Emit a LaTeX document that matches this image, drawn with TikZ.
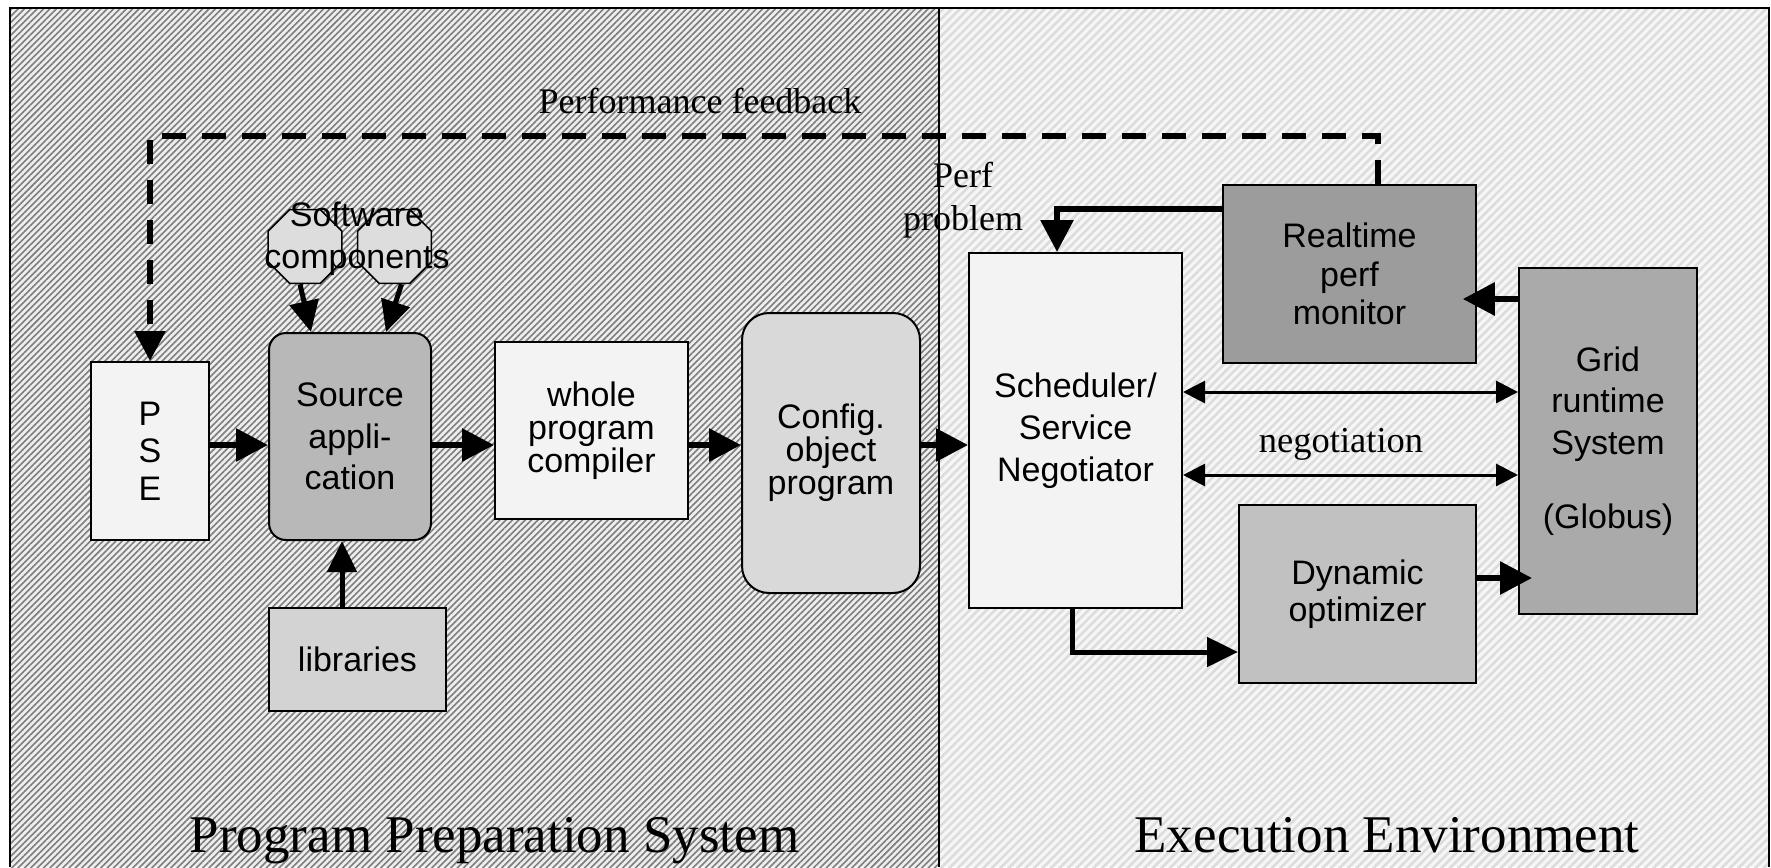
\documentclass[tikz,border=0pt]{standalone}
\usepackage{fontspec}
\setmainfont{Liberation Serif}
\newfontfamily\arialfont{Liberation Sans}
\usetikzlibrary{arrows.meta,patterns.meta,shapes.geometric}

\definecolor{leftbase}{HTML}{EEEEEE}
\definecolor{leftline}{HTML}{7E7E7E}
\definecolor{rightbase}{HTML}{F6F6F6}
\definecolor{rightline}{HTML}{DCDCDC}
\definecolor{palebox}{HTML}{F3F3F3}
\definecolor{srcfill}{HTML}{B8B8B8}
\definecolor{libfill}{HTML}{D3D3D3}
\definecolor{cfgfill}{HTML}{D9D9D9}
\definecolor{octfill}{HTML}{DDDDDD}
\definecolor{rtfill}{HTML}{9C9C9C}
\definecolor{gridfill}{HTML}{AAAAAA}
\definecolor{dynfill}{HTML}{C1C1C1}

\tikzset{
  blk/.style={draw=black, line width=2pt, inner sep=0pt, align=center, text=black},
  sansfont/.style={font=\arialfont\fontsize{34}{#1}\selectfont},
  flow/.style={line width=6pt, -{Triangle[length=32pt,width=32pt]}},
  flowthin/.style={line width=5pt, -{Triangle[length=31pt,width=29pt]}},
  link/.style={line width=3pt, {Triangle[length=22pt,width=22pt]}-{Triangle[length=22pt,width=22pt]}},
  feedback/.style={line width=6pt, dash pattern=on 24pt off 16pt, -{Triangle[length=30pt,width=30pt]}},
  octa/.style={regular polygon, regular polygon sides=8, minimum size=80pt, inner sep=0pt, draw=black, line width=1.5pt, fill=octfill},
}

\begin{document}
\begin{tikzpicture}[x=1pt,y=-1pt]
\useasboundingbox (0,0) rectangle (1771,867);

% background panels
\path[preaction={fill=leftbase}, pattern={Lines[angle=45,distance=4.5pt,line width=1.6pt]}, pattern color=leftline]
  (10,8) rectangle (938.5,867);
\path[preaction={fill=rightbase}, pattern={Lines[angle=45,distance=6pt,line width=2.5pt]}, pattern color=rightline]
  (938.5,8) rectangle (1769,867);
\draw[line width=2.5pt] (10,867) -- (10,8) -- (1769,8) -- (1769,867);
\draw[line width=2pt] (938.5,8) -- (938.5,867);

% program preparation blocks
\node[blk, sansfont=37.5, fill=palebox, minimum width=118pt, minimum height=178pt] (pse) at (150,451) {P\\S\\E};
\node[blk, sansfont=41.5, fill=srcfill, rounded corners=17pt, minimum width=162pt, minimum height=207pt] (src) at (350,436.5) {Source\\appli-\\cation};
\node[blk, sansfont=41.5, fill=libfill, minimum width=177pt, minimum height=103pt] (lib) at (357.5,659.5) {libraries};
\node[blk, sansfont=33, fill=palebox, minimum width=193pt, minimum height=177pt] (whole) at (591.5,430.5) {whole\\program\\compiler};
\node[blk, sansfont=33, fill=cfgfill, rounded corners=27pt, minimum width=178pt, minimum height=280pt] (cfg) at (831,453) {Config.\\object\\program};
\node[octa] (oct1) at (305,246.5) {};
\node[octa] (oct2) at (394.5,246.5) {};
\node[sansfont=41.5, align=center, inner sep=0pt] (swtext) at (357,238.7) {Software\\components};

% execution environment blocks
\node[blk, sansfont=42, fill=palebox, minimum width=213pt, minimum height=355pt] (sched) at (1075.5,430.5) {Scheduler/\\Service\\Negotiator};
\node[blk, sansfont=38.5, fill=rtfill, line width=1.5pt, minimum width=253pt, minimum height=178pt] (rt) at (1349.5,274) {Realtime\\perf\\monitor};
\node[blk, sansfont=41.5, fill=gridfill, minimum width=178pt, minimum height=346pt] (grid) at (1608,441) {Grid\\runtime\\System\\[33pt](Globus)};
\node[blk, sansfont=37, fill=dynfill, minimum width=237pt, minimum height=178pt] (dyn) at (1357.5,594) {Dynamic\\optimizer};

% main pipeline
\coordinate (row) at (0,445);
\draw[flow] (pse.east |- row) -- (src.west |- row);
\draw[flow] (src.east |- row) -- (whole.west |- row);
\draw[flow] (whole.east |- row) -- (cfg.west |- row);
\draw[flow] (cfg.east |- row) -- (sched.west |- row);

% inputs to the source application
\draw[flowthin] ([xshift=-5pt]oct1.south) -- ([xshift=43pt]src.north west);
\draw[flowthin] ([xshift=7pt]oct2.south) -- ([xshift=118pt]src.north west);
\coordinate (libup) at ([xshift=-15.5pt]lib.north);
\draw[flowthin] (libup) -- (libup |- src.south);

% runtime connections
\coordinate (pp) at (1057,209);
\draw[flow] (rt.west |- pp) -| (pp |- sched.north);
\coordinate (mon) at (0,299);
\draw[flow, shorten >=-14pt] (grid.west |- mon) -- (rt.east |- mon);
\coordinate (n1) at (0,392);
\coordinate (n2) at (0,475);
\draw[link] (sched.east |- n1) -- (grid.west |- n1);
\draw[link] (sched.east |- n2) -- (grid.west |- n2);
\coordinate (sd) at (1072,652);
\draw[flowthin] (sched.south -| sd) |- (dyn.west |- sd);
\coordinate (og) at (0,578);
\draw[flow, shorten >=-14pt] (dyn.east |- og) -- (grid.west |- og);

% performance feedback loop
\coordinate (fbR) at (1378,136);
\coordinate (fbL) at (150,136);
\draw[feedback] (fbR |- rt.north) -- (fbR) -- (fbL) -- (pse.north);

% labels
\node[anchor=base, inner sep=0pt, font=\fontsize{36}{43}\selectfont] (fbtext) at (700,113) {Performance feedback};
\node[align=center, inner sep=0pt, font=\fontsize{36}{43}\selectfont] (pptext) at (963,200) {Perf\\problem};
\node[anchor=base, inner sep=0pt, font=\fontsize{36.5}{44}\selectfont] (negtext) at (1341,452) {negotiation};
\node[anchor=base, inner sep=0pt, font=\fontsize{53}{60}\selectfont] (pps) at (494.5,852) {Program Preparation System};
\node[anchor=base, inner sep=0pt, font=\fontsize{53}{60}\selectfont] (exe) at (1387,852) {Execution Environment};
\end{tikzpicture}
\end{document}
